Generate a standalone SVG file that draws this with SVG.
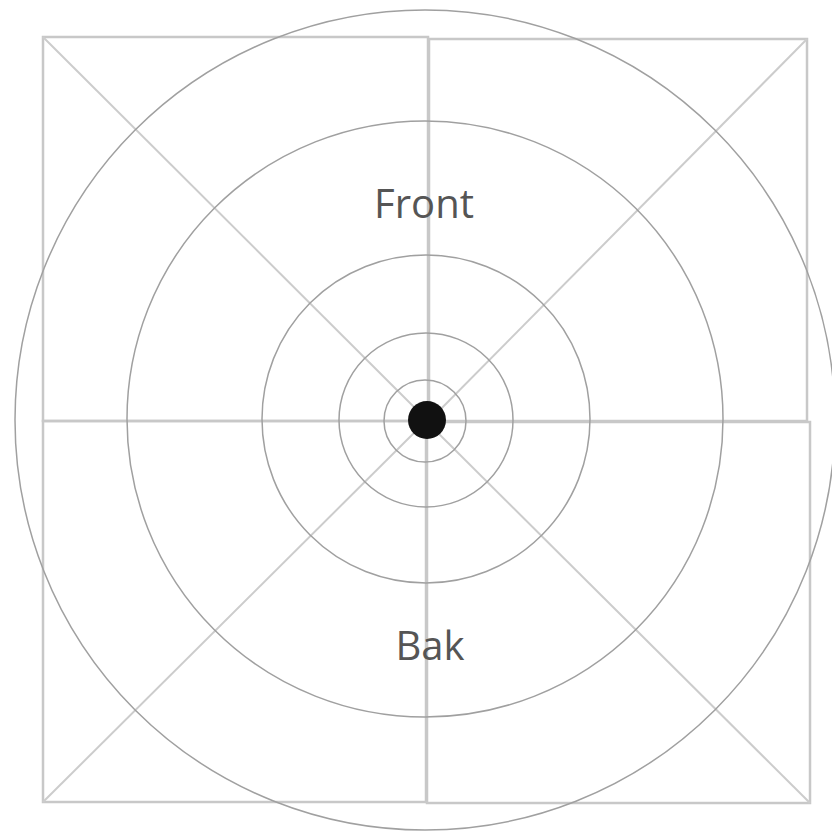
<svg xmlns="http://www.w3.org/2000/svg" width="832" height="832" viewBox="0 0 832 832">
<style>
.q{fill:none;stroke:#c8c8c8;stroke-width:2.5}
.d{stroke:#cccccc;stroke-width:2}
.c{fill:none;stroke:#a0a0a0;stroke-width:1.5}
.t{font-family:"Open Sans","DejaVu Sans",sans-serif;font-size:40px;fill:#555555;text-anchor:middle}
</style>
<rect width="832" height="832" fill="#ffffff"/>
<g id="quadrants">
<g id="q-tl"><rect class="q" x="43" y="37" width="385" height="384"/><line class="d" x1="43" y1="37" x2="428" y2="421"/></g>
<g id="q-tr"><rect class="q" x="429" y="39" width="378" height="382"/><line class="d" x1="807" y1="39" x2="429" y2="421"/></g>
<g id="q-bl"><rect class="q" x="43" y="421" width="383" height="381"/><line class="d" x1="43" y1="802" x2="426" y2="421"/></g>
<g id="q-br"><rect class="q" x="427" y="422" width="383" height="381"/><line class="d" x1="810" y1="803" x2="427" y2="422"/></g>
</g>
<g id="rings">
<circle class="c" cx="425" cy="420" r="410"/>
<circle class="c" cx="425" cy="419" r="298"/>
<circle class="c" cx="426" cy="419" r="164"/>
<circle class="c" cx="426" cy="420" r="87"/>
<circle class="c" cx="425" cy="421" r="41"/>
</g>
<g id="center"><circle cx="427" cy="420" r="19" fill="#111111"/></g>
<g id="label-front"><text class="t" x="424" y="218">Front</text></g>
<g id="label-bak"><text class="t" x="430" y="660">Bak</text></g>
</svg>
